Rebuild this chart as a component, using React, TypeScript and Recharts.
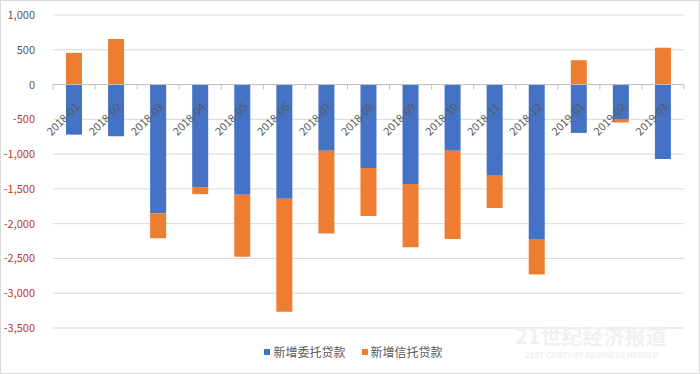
import { BarChart, Bar, XAxis, YAxis, CartesianGrid, ReferenceLine, Legend, LabelList } from 'recharts';

const months = [
    '2018-01', '2018-02', '2018-03', '2018-04', '2018-05', '2018-06', '2018-07', '2018-08',
    '2018-09', '2018-10', '2018-11', '2018-12', '2019-01', '2019-02', '2019-03',
];
// 新增委托贷款
const entrusted = [-720, -745, -1850, -1475, -1585, -1640, -950, -1200, -1430, -950, -1310, -2220, -695, -505, -1070];
// 新增信托贷款
const trust = [455, 655, -360, -100, -890, -1625, -1190, -690, -910, -1270, -465, -510, 350, -40, 530];
const yTicks = [-3500, -3000, -2500, -2000, -1500, -1000, -500, 0, 500, 1000];

const data = months.map((month, i) => ({ month, entrusted: entrusted[i], trust: trust[i] }));

const FONT = '"Noto Sans CJK SC", "Noto Sans", sans-serif';
const BLUE = '#4472C4';
const ORANGE = '#ED7D31';

const YTick = (props: any) => {
    const { x, y, payload } = props;
    const v = payload.value as number;
    return (
        <text x={x} y={y} dy={4} textAnchor="end" fontSize={11} fontFamily={FONT} fill={v < 0 ? '#c0392b' : '#595959'}>
            {v.toLocaleString('en-US')}
        </text>
    );
};

const CategoryLabel = (props: any) => {
    const { x, y, width, height, value, index } = props;
    const cx = x + width / 2;
    const top = Math.min(y, y + height);
    const ax = cx + 6;
    const ay = top + 23;
    return (
        <g>
            <line x1={cx - 21} x2={cx - 21} y1={top} y2={top + 5} stroke="#bfbfbf" />
            {index === months.length - 1 && <line x1={cx + 21} x2={cx + 21} y1={top} y2={top + 5} stroke="#bfbfbf" />}
            <text x={ax} y={ay} transform={`rotate(-45 ${ax} ${ay})`} textAnchor="end" fontSize={11} fontFamily={FONT} fill="#595959">
                {value}
            </text>
        </g>
    );
};

const LegendContent = () => (
    <div style={{ display: 'flex', justifyContent: 'center', gap: 16, fontFamily: FONT, fontSize: 12, color: '#595959', paddingLeft: 22, paddingTop: 15 }}>
        <span style={{ display: 'flex', alignItems: 'center', gap: 3 }}>
            <span style={{ width: 6, height: 6, background: BLUE, display: 'inline-block' }} />新增委托贷款
        </span>
        <span style={{ display: 'flex', alignItems: 'center', gap: 3 }}>
            <span style={{ width: 6, height: 6, background: ORANGE, display: 'inline-block' }} />新增信托贷款
        </span>
    </div>
);

export default function App() {
    return (
        <div style={{ position: 'relative', width: 698, height: 372, border: '1px solid #d9d9d9', background: '#fff' }}>
            <style>{`body{margin:0}`}</style>
            <BarChart
                width={698}
                height={372}
                data={data}
                stackOffset="sign"
                margin={{ top: 14, right: 15, bottom: 14, left: 0 }}
            >
                <CartesianGrid vertical={false} stroke="#d9d9d9" />
                <XAxis dataKey="month" hide />
                <YAxis
                    domain={[-3500, 1000]}
                    ticks={yTicks}
                    width={52}
                    axisLine={false}
                    tickLine={false}
                    tick={<YTick />}
                    tickMargin={12}
                    interval={0}
                />
                <ReferenceLine y={0} stroke="#bfbfbf" />
                <Bar dataKey="entrusted" stackId="a" fill={BLUE} barSize={16} isAnimationActive={false}>
                    <LabelList dataKey="month" content={<CategoryLabel />} />
                </Bar>
                <Bar dataKey="trust" stackId="a" fill={ORANGE} barSize={16} isAnimationActive={false} />
                <Legend verticalAlign="bottom" height={31} content={<LegendContent />} />
            </BarChart>
            <div style={{ position: 'absolute', left: 500, top: 322, width: 180, whiteSpace: 'nowrap', fontFamily: FONT, color: '#f0f0f0', textAlign: 'center', pointerEvents: 'none', lineHeight: '24px', fontSize: 21, fontWeight: 700 }}>
                21世纪经济报道
            </div>
            <div style={{ position: 'absolute', left: 500, top: 349, width: 180, whiteSpace: 'nowrap', fontFamily: FONT, color: '#f0f0f0', textAlign: 'center', pointerEvents: 'none', lineHeight: '9px', fontSize: 8, fontStyle: 'italic', fontWeight: 700 }}>
                21ST CENTURY BUSINESS HERALD
            </div>
        </div>
    );
}
